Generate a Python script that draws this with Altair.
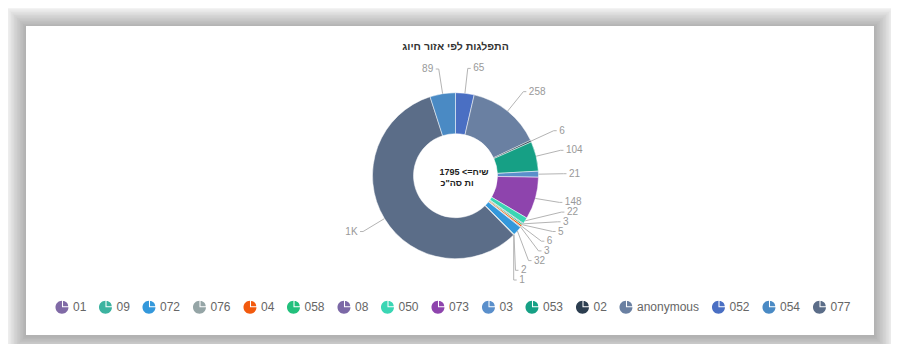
import math
import altair as alt
import pandas as pd

# ---------------- data ----------------
TITLE = "התפלגות לפי אזור חיוג"
# visual order forced with a left-to-right override
CENTER_LINES = ["\u202D1795 <=" + "\u05D7\u05D9\u05E9" + "\u202C", 'ות סה"כ']

# slices, clockwise from 12 o'clock
slice_codes = ["052", "anonymous", "02", "053", "03", "073", "050", "08",
               "058", "04", "076", "072", "09", "01", "077", "054"]
slice_values = [65, 258, 6, 104, 21, 148, 22, 3, 5, 6, 3, 32, 2, 1, 1030, 89]

# legend order and colours
legend_codes = ["01", "09", "072", "076", "04", "058", "08", "050", "073",
                "03", "053", "02", "anonymous", "052", "054", "077"]
legend_colors = ["#806aa6", "#3cb3a0", "#3498db", "#95a5a6", "#f25a0e", "#22c07c",
                 "#7b68a6", "#3ad6b4", "#8e44ad", "#5a8fcb", "#16a085", "#2c3e50",
                 "#6a80a2", "#4a6fc3", "#4a8ac4", "#5b6d88"]

# ---------------- layout ----------------
W, H = 883, 336
CX, CY = 447.5, 167.7
R_OUT, R_IN = 83, 42
L1 = 25
X_ELL = R_OUT + 29
L2 = 3
GAP = 2.5
ROW = 9.7
LABEL_BOTTOM = CY + 104.3
CARD = (18, 18, 866, 327)
FONT = "Liberation Sans"

PIE_ICON = ("M-0.08,0.08 L-0.08,-0.92 A1,1 0 1,0 0.92,0.08 Z "
            "M0.08,-0.08 L0.08,-0.88 A0.8,0.8 0 0,1 0.88,-0.08 Z")


def fmt(v):
    return f"{round(v / 1000)}K" if v >= 1000 else str(v)


total = sum(slice_values)
items = []
cum = 0
for i, (code, v) in enumerate(zip(slice_codes, slice_values)):
    mid = (cum + v / 2) / total * 2 * math.pi
    cum += v
    sx, sy = math.sin(mid), -math.cos(mid)
    side = 1 if sx >= 0 else -1
    p0 = (CX + R_OUT * sx, CY + R_OUT * sy)
    p1 = (CX + (R_OUT + L1) * sx, CY + (R_OUT + L1) * sy)
    items.append(dict(code=code, v=v, idx=i, side=side, p0=p0, p1=p1, y=p1[1], y0=p1[1]))

for side in (1, -1):
    lst = sorted([it for it in items if it["side"] == side], key=lambda d: d["y0"])
    for k in range(1, len(lst)):
        lst[k]["y"] = max(lst[k]["y"], lst[k - 1]["y"] + ROW)
    if lst and lst[-1]["y"] > LABEL_BOTTOM:
        lst[-1]["y"] = LABEL_BOTTOM
        for k in range(len(lst) - 2, -1, -1):
            lst[k]["y"] = min(lst[k]["y"], lst[k + 1]["y"] - ROW)
    for it in lst:
        if abs(it["y"] - it["y0"]) > 3:
            dy = it["y"] - CY
            if abs(dy) < X_ELL:
                ex = CX + side * math.sqrt(X_ELL ** 2 - dy ** 2)
            else:
                ex = it["p1"][0]
            ex = max(ex, it["p0"][0]) if side > 0 else min(ex, it["p0"][0])
        else:
            ex = it["p1"][0]
        it["ex"] = ex

line_rows, label_rows = [], []
for it in items:
    s = it["side"]
    pts = [it["p0"], (it["ex"], it["y"]), (it["ex"] + s * L2, it["y"])]
    for o, (px, py) in enumerate(pts):
        line_rows.append(dict(code=it["code"], o=o, x=px, y=py))
    label_rows.append(dict(code=it["code"], text=fmt(it["v"]),
                           x=it["ex"] + s * (L2 + GAP), y=it["y"], side=s))

lines_df = pd.DataFrame(line_rows)
labels_df = pd.DataFrame(label_rows)
pie_df = pd.DataFrame({"code": slice_codes, "value": slice_values,
                       "idx": list(range(len(slice_codes)))})

# card + soft shadow
rect_rows = []
for k in range(14, 0, -1):
    e = k * 1.5
    rect_rows.append(dict(x=CARD[0] - e, x2=CARD[2] + e, y=CARD[1] - e + 1, y2=CARD[3] + e + 1,
                          c="shadow", op=0.024))
rect_rows.append(dict(x=CARD[0], x2=CARD[2], y=CARD[1], y2=CARD[3], c="card", op=1.0))
rect_df = pd.DataFrame(rect_rows)

center_df = pd.DataFrame({"t": CENTER_LINES, "x": [CX - 16, CX - 15],
                          "y": [CY - 3.7, CY + 7.3]})
title_df = pd.DataFrame({"t": [TITLE], "x": [CX], "y": [39]})

XS = alt.Scale(domain=[0, W], range=[0, W], nice=False, zero=False)
YS = alt.Scale(domain=[0, H], range=[0, H], nice=False, zero=False)


def X(f="x"):
    return alt.X(f"{f}:Q", scale=XS, axis=None)


def Y(f="y"):
    return alt.Y(f"{f}:Q", scale=YS, axis=None)


rects = alt.Chart(rect_df).mark_rect().encode(
    x=X(), x2="x2:Q", y=Y(), y2="y2:Q",
    color=alt.Color("c:N", scale=alt.Scale(domain=["shadow", "card"], range=["#000000", "#ffffff"]),
                    legend=None),
    opacity=alt.Opacity("op:Q", scale=None),
)

pie = alt.Chart(pie_df).mark_arc(innerRadius=R_IN, outerRadius=R_OUT, stroke="#ffffff",
                                 strokeWidth=0.5).encode(
    theta=alt.Theta("value:Q", stack=True),
    order=alt.Order("idx:Q"),
    color=alt.Color("code:N", scale=alt.Scale(domain=legend_codes, range=legend_colors),
                    legend=alt.Legend(title=None, orient="none", legendX=48, legendY=292,
                                      direction="horizontal", columns=16,
                                      symbolType=PIE_ICON, symbolSize=169,
                                      symbolStrokeWidth=0, symbolOpacity=1,
                                      labelFontSize=12, labelColor="#666666", labelFont=FONT,
                                      labelOffset=4, columnPadding=11.5, padding=0)),
    x=alt.value(CX), y=alt.value(CY),
)

lines = alt.Chart(lines_df).mark_line(color="#b4b4b4", strokeWidth=1).encode(
    x=X(), y=Y(), detail="code:N", order="o:Q")

lab_r = alt.Chart(labels_df).transform_filter("datum.side > 0").mark_text(
    align="left", baseline="middle", fontSize=10, color="#999999", font=FONT
).encode(x=X(), y=Y(), text="text:N")
lab_l = alt.Chart(labels_df).transform_filter("datum.side < 0").mark_text(
    align="right", baseline="middle", fontSize=10, color="#999999", font=FONT
).encode(x=X(), y=Y(), text="text:N")

center = alt.Chart(center_df).mark_text(
    align="left", baseline="middle", fontSize=9, fontWeight="bold", color="#222222", font=FONT
).encode(x=X(), y=Y(), text="t:N")

title = alt.Chart(title_df).mark_text(
    align="center", baseline="middle", fontSize=10.5, fontWeight="bold", color="#333333", font=FONT
).encode(x=X(), y=Y(), text="t:N")

chart = alt.layer(rects, pie, lines, lab_r, lab_l, center, title).resolve_scale(
    color="independent"
).properties(
    width=W, height=H, padding=0, background="#ffffff",
    autosize=alt.AutoSizeParams(type="none"),
).configure_view(stroke="transparent")

chart.save("out.html", embed_options={"renderer": "svg", "actions": False})
